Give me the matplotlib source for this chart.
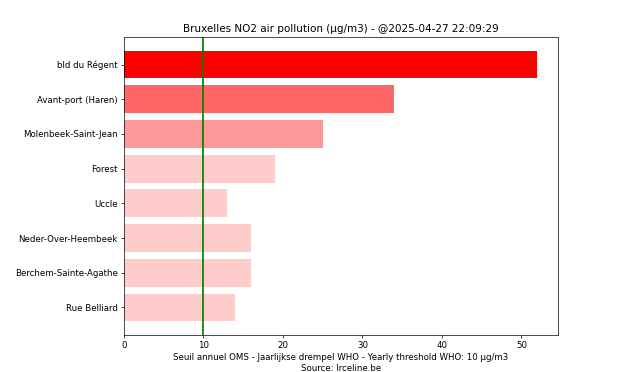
import matplotlib
matplotlib.use("Agg")
import matplotlib.pyplot as plt

# NO2 values per station (µg/m3), top to bottom
stations = ["bld du Régent", "Avant-port (Haren)", "Molenbeek-Saint-Jean", "Forest",
            "Uccle", "Neder-Over-Heembeek", "Berchem-Sainte-Agathe", "Rue Belliard"]
values = [52, 34, 25, 19, 13, 16, 16, 14]
alphas = [1.0, 0.6, 0.4, 0.2, 0.2, 0.2, 0.2, 0.2]
who_threshold = 10

# drawn at 10x6 in and saved at 62 dpi -> 620x372 px
fig = plt.figure(figsize=(10, 6))
ax = fig.add_subplot(111)
fig.subplots_adjust(left=0.2, right=0.9, top=0.9, bottom=0.1)

pos = list(range(len(stations)))
for p, v, a in zip(pos, values, alphas):
    ax.barh(p, v, color="red", alpha=a)
ax.set_yticks(pos)
ax.set_yticklabels(stations)
ax.invert_yaxis()

ax.axvline(who_threshold, color="green", linewidth=2)

ax.set_title("Bruxelles NO2 air pollution (µg/m3) - @2025-04-27 22:09:29")
ax.set_xlabel("Seuil annuel OMS - Jaarlijkse drempel WHO - Yearly threshold WHO: 10 µg/m3\nSource: Irceline.be")

fig.savefig("out.png", dpi=62)
